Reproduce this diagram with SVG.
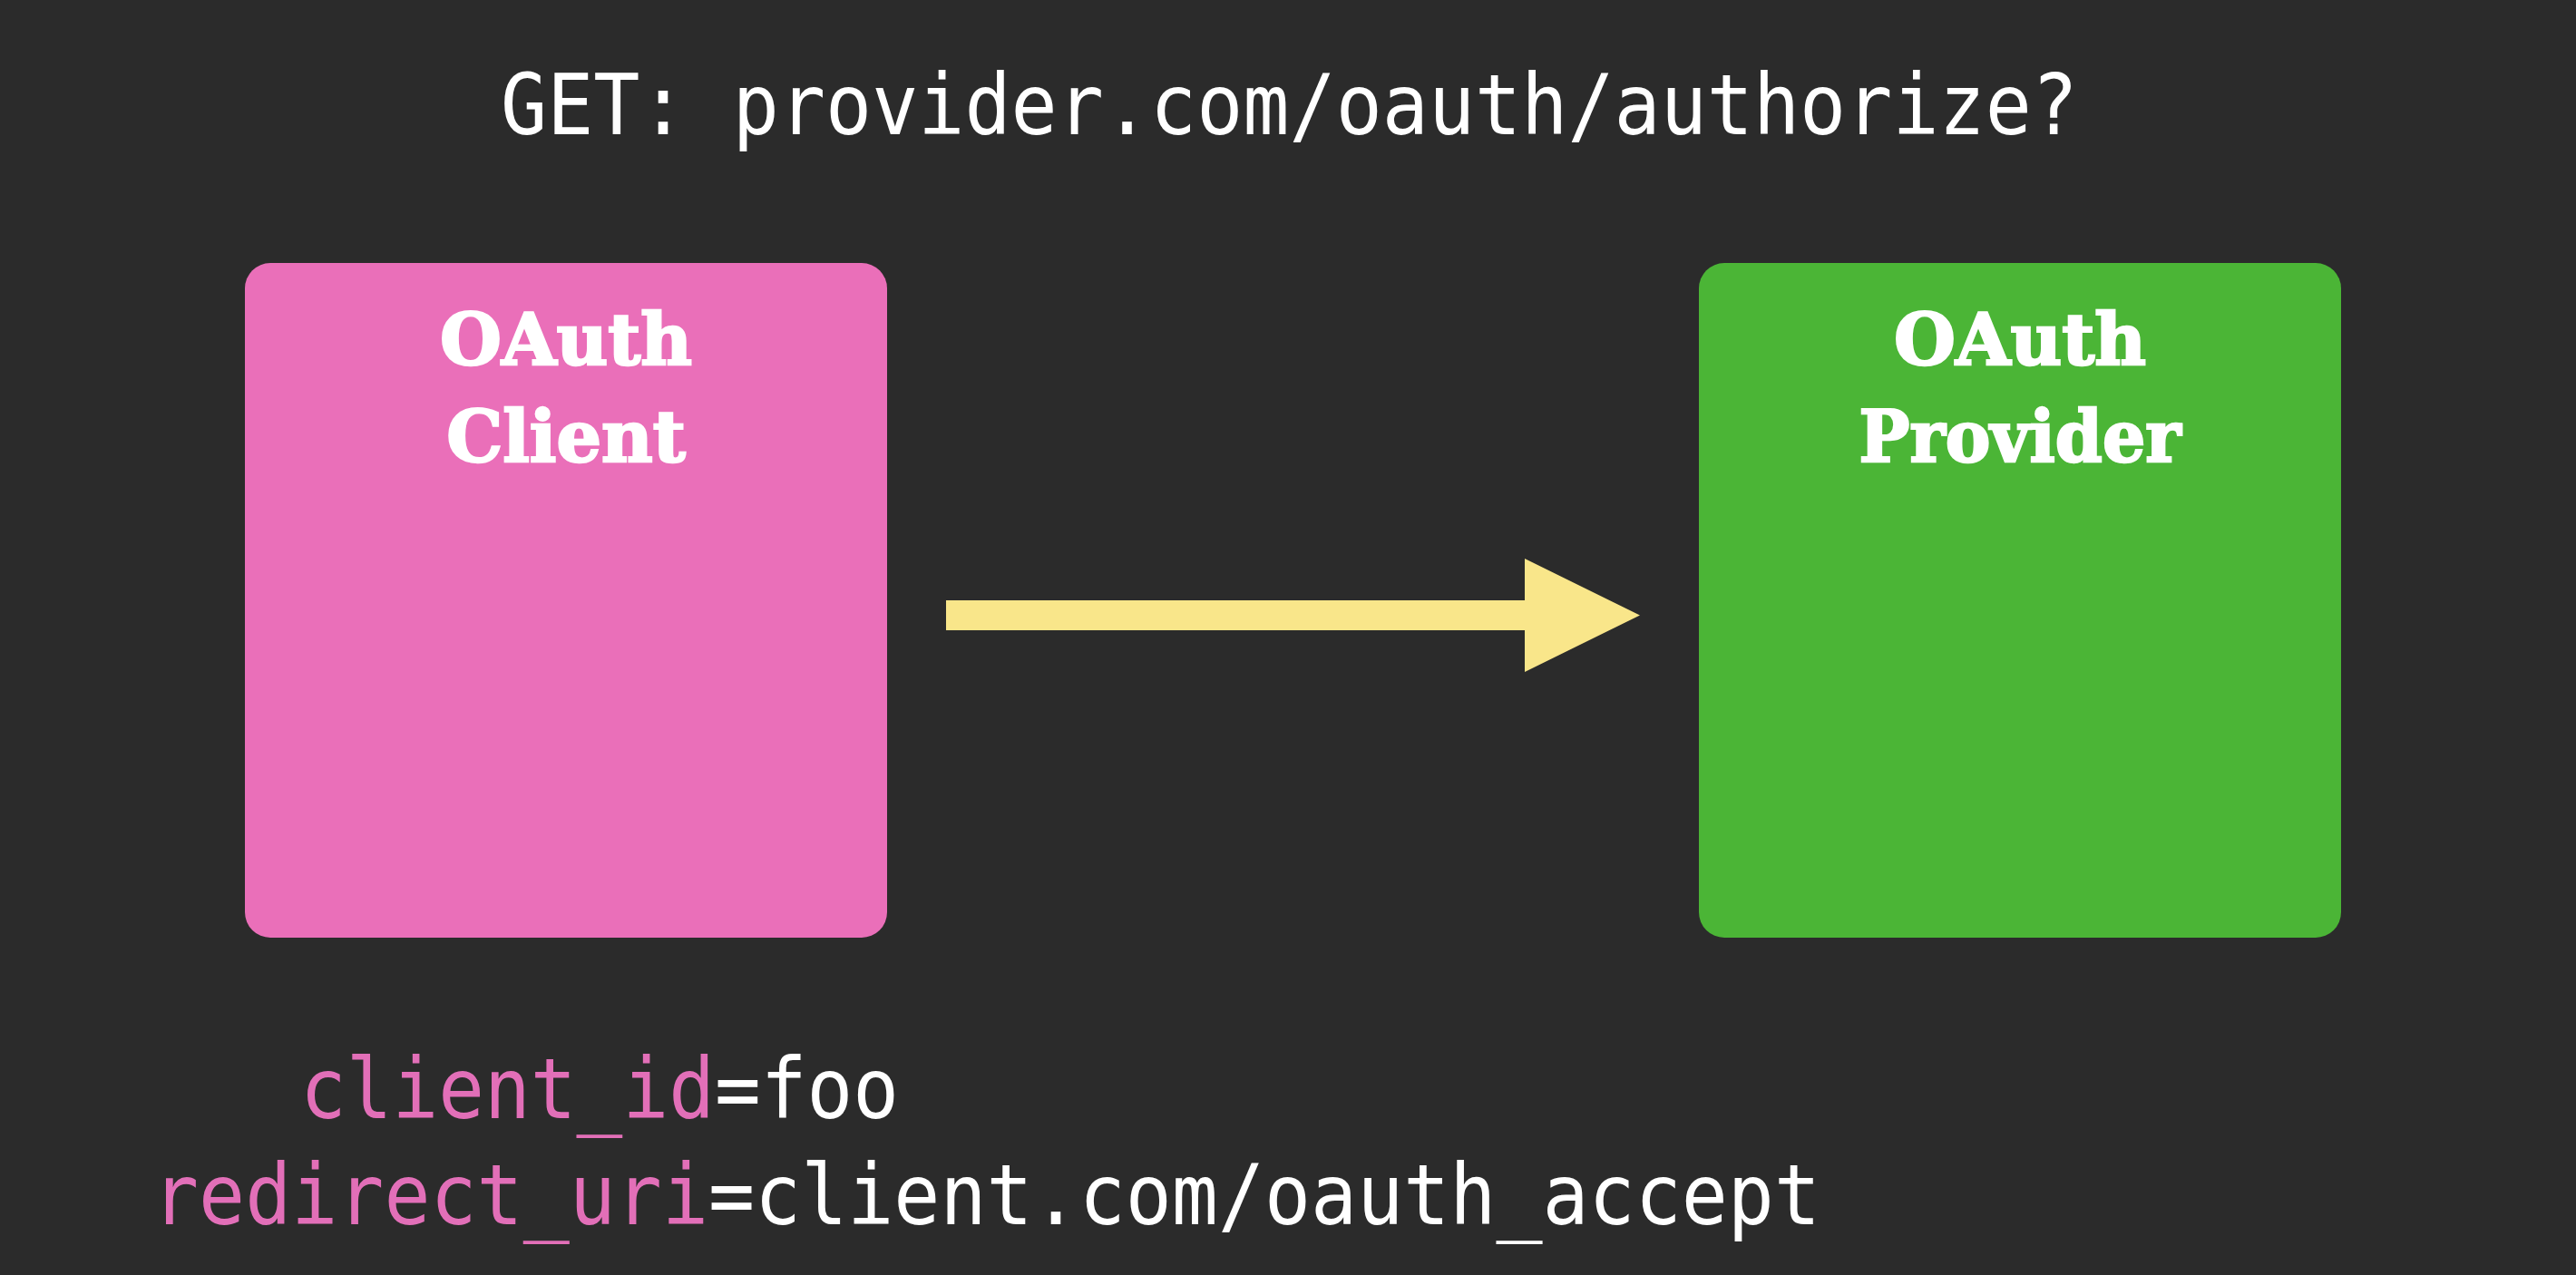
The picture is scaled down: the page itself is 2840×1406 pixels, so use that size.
<svg xmlns="http://www.w3.org/2000/svg" width="2840" height="1406" viewBox="0 0 2840 1406">
<style>
.mono{font-family:"DejaVu Sans Mono","Liberation Mono",monospace;font-size:93px;fill:#ffffff}
.pk{fill:#E26FB8}
.lbl{font-family:"DejaVu Serif","Liberation Serif",serif;font-weight:bold;font-size:78px;fill:#ffffff;stroke:#ffffff;stroke-width:2.5;text-anchor:middle}
</style>
<rect width="2840" height="1406" fill="#2B2B2B"/>
<text class="mono" x="552" y="148" textLength="1739" lengthAdjust="spacingAndGlyphs">GET: provider.com/oauth/authorize?</text>
<g id="client">
<rect x="270" y="290" width="708" height="744" rx="28" fill="#EA6FB9"/>
<text class="lbl" x="624" y="402">OAuth</text>
<text class="lbl" x="624" y="509">Client</text>
</g>
<g id="provider">
<rect x="1873" y="290" width="708" height="744" rx="28" fill="#4BB536"/>
<text class="lbl" x="2227" y="402">OAuth</text>
<text class="lbl" x="2227" y="509" textLength="355" lengthAdjust="spacingAndGlyphs">Provider</text>
</g>
<g id="connectors">
<polygon points="1043,662 1681,662 1681,616 1808,678.5 1681,741 1681,695 1043,695" fill="#F9E68A"/>
</g>
<text class="mono" x="331" y="1233" textLength="660" lengthAdjust="spacingAndGlyphs"><tspan class="pk">client_id</tspan>=foo</text>
<text class="mono" x="168" y="1350" textLength="1839" lengthAdjust="spacingAndGlyphs"><tspan class="pk">redirect_uri</tspan>=client.com/oauth_accept</text>
</svg>
